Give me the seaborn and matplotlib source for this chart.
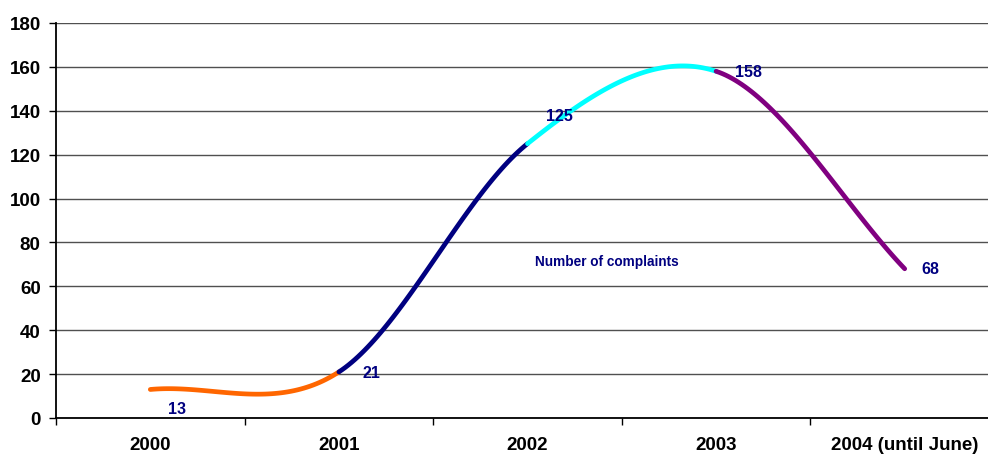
import numpy as np
import pandas as pd
import matplotlib
matplotlib.use("Agg")
import matplotlib.pyplot as plt
import seaborn as sns

# ---- data ----
years = ["2000", "2001", "2002", "2003", "2004 (until June)"]
complaints = [13, 21, 125, 158, 68]
segment_colors = ["#FF6600", "#000080", "#00FFFF", "#800080"]
label_offsets = [(27, -19), (33, -1), (32, 28), (32, 0), (26, 0)]  # in pixels (dx, dy)
series_name = "Number of complaints"


def smooth_segments(yvals, n=60):
    """Catmull-Rom style smoothing (like Excel's smoothed line) per segment."""
    xs = np.arange(len(yvals), dtype=float)
    ys = np.asarray(yvals, dtype=float)
    P = np.column_stack([xs, ys])
    k = len(P)
    T = np.zeros_like(P)
    for i in range(k):
        if i == 0:
            T[i] = P[1] - P[0]
        elif i == k - 1:
            T[i] = P[-1] - P[-2]
        else:
            T[i] = (P[i + 1] - P[i - 1]) / 2.0
    rows = []
    t = np.linspace(0, 1, n)
    h00 = 2 * t**3 - 3 * t**2 + 1
    h10 = t**3 - 2 * t**2 + t
    h01 = -2 * t**3 + 3 * t**2
    h11 = t**3 - t**2
    for i in range(k - 1):
        pts = (h00[:, None] * P[i] + h10[:, None] * T[i]
               + h01[:, None] * P[i + 1] + h11[:, None] * T[i + 1])
        for j, (x, y) in enumerate(pts):
            rows.append({"x": x, "y": y, "seg": f"s{i}", "order": j})
    return pd.DataFrame(rows)


df = smooth_segments(complaints)

sns.set_theme(style="white")
plt.rcParams["font.family"] = ["Liberation Sans", "DejaVu Sans"]
plt.rcParams["font.weight"] = "bold"

W, H = 988, 456
fig = plt.figure(figsize=(W / 100, H / 100), dpi=100)
left_px, right_px, top_px, bottom_px = 56, 999, 24, 419
ax = fig.add_axes([left_px / W, 1 - bottom_px / H,
                   (right_px - left_px) / W, (bottom_px - top_px) / H])

sns.lineplot(data=df, x="x", y="y", hue="seg", palette=segment_colors,
             sort=False, estimator=None, linewidth=3.4, legend=False, ax=ax,
             solid_capstyle="round")

ax.set_xlim(-0.5, len(years) - 0.5)
ax.set_ylim(0, 180)
ax.set_yticks(np.arange(0, 181, 20))
ax.set_xticks(np.arange(len(years)))
ax.set_xticklabels(years)
ax.set_xticks(np.arange(len(years) + 1) - 0.5, minor=True)
ax.set_xlabel("")
ax.set_ylabel("")

ax.yaxis.grid(True, color="#505050", linewidth=1.0)
ax.set_axisbelow(True)
for s in ["top", "right"]:
    ax.spines[s].set_visible(False)
for s in ["left", "bottom"]:
    ax.spines[s].set_color("black")
    ax.spines[s].set_linewidth(1.3)

ax.tick_params(axis="x", which="major", length=0, pad=13, labelsize=13.5,
               labelcolor="black")
ax.tick_params(axis="x", which="minor", length=5, width=1, color="black",
               direction="out", bottom=True)
ax.tick_params(axis="y", which="major", length=5, width=1, color="black",
               direction="out", left=True, pad=6, labelsize=13.5,
               labelcolor="black")
for lab in ax.get_xticklabels() + ax.get_yticklabels():
    lab.set_fontweight("bold")

for i, v in enumerate(complaints):
    dx, dy = label_offsets[i]
    ax.annotate(str(v), xy=(i, v), xytext=(dx * 0.72, dy * 0.72),
                textcoords="offset points", ha="center", va="center",
                fontsize=11.5, fontweight="bold", color="#000080")

ax.text(0.584, 0.397, series_name, transform=ax.transAxes, ha="center",
        va="center", fontsize=9.8, fontweight="bold", color="#000080")

fig.savefig("out.png", dpi=100)
